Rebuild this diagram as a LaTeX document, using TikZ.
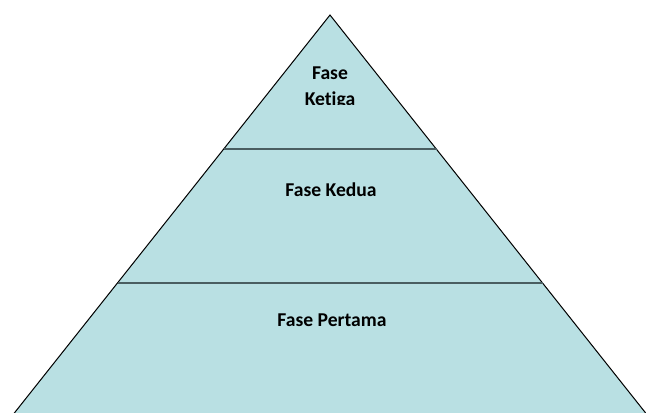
\documentclass[tikz,border=0pt]{standalone}
\usepackage{fontspec}
\setmainfont[Ligatures={NoCommon,TeX}]{Carlito}
\definecolor{pyrfill}{RGB}{185,224,227}
\definecolor{divline}{RGB}{74,94,97}
\tikzset{
  lbl/.style={font=\fontsize{14.7pt}{18pt}\selectfont\bfseries, text=black, inner sep=0pt},
  divider/.style={draw=divline, line width=2.1pt},
  pyr/.style={fill=pyrfill, draw=black, line width=0.75pt}
}
\begin{document}
\begin{tikzpicture}[x=0.75pt,y=-0.75pt]
\useasboundingbox (0,0) rectangle (646,412);
\clip (0,0) rectangle (646,412);
\coordinate (apex) at (330,15);
\coordinate (bl) at (8,421);
\coordinate (br) at (652,421);
\path[pyr] (apex) -- (br) -- (bl) -- cycle;
\coordinate (d1l) at (224,149);
\coordinate (d1r) at (437,149);
\coordinate (d2l) at (118,283);
\coordinate (d2r) at (543,283);
\draw[divider] (d1l) -- (d1r);
\draw[divider] (d2l) -- (d2r);
\node[lbl, anchor=base] (t3a) at (330,79.5) {Fase};
\begin{scope}
\clip (250,85) rectangle (410,104.5);
\node[lbl, anchor=base] (t3b) at (330,105.5) {Ketiga};
\end{scope}
\node[lbl] (t2) at (331,190) {Fase Kedua};
\node[lbl] (t1) at (332,320) {Fase Pertama};
\end{tikzpicture}
\end{document}
